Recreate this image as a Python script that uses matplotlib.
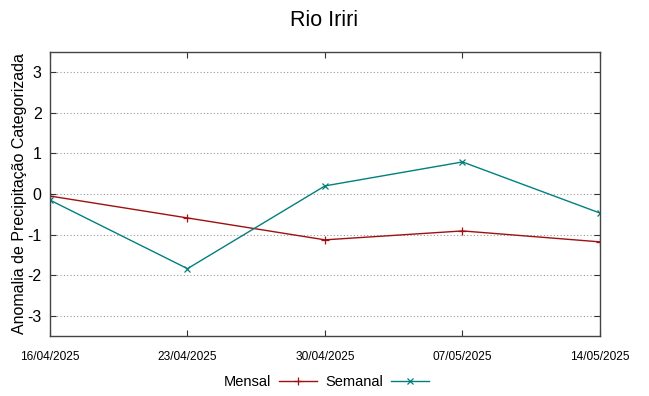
import matplotlib
matplotlib.use("Agg")
import matplotlib.pyplot as plt

plt.rcParams['font.family'] = ['Liberation Sans', 'DejaVu Sans']

datas = ["16/04/2025", "23/04/2025", "30/04/2025", "07/05/2025", "14/05/2025"]
mensal = [-0.05, -0.59, -1.13, -0.91, -1.18]
semanal = [-0.15, -1.84, 0.20, 0.79, -0.47]
yticks = [-3, -2, -1, 0, 1, 2, 3]

fig = plt.figure(figsize=(6.49, 3.96), dpi=100)
ax = fig.add_axes([0.077, 0.1515, 0.8475, 0.7172])

x = list(range(len(datas)))
ax.plot(x, mensal, color="#a01010", lw=1.0, marker="+", ms=6, mew=0.9, label="Mensal")
ax.plot(x, semanal, color="#00807f", lw=1.0, marker="x", ms=5, mew=0.9, label="Semanal")

ax.set_xlim(0, len(datas) - 1)
ax.set_ylim(-3.5, 3.5)
ax.set_xticks(x)
ax.set_xticklabels(datas, fontsize=8.6)
ax.set_yticks(yticks)
ax.set_yticklabels([str(v) for v in yticks], fontsize=11.5)
ax.tick_params(direction="in", length=4, top=True, right=True, colors="#333333", labelcolor="black", pad=6)
ax.tick_params(axis="x", pad=11)
ax.grid(axis="y", linestyle=(0, (1, 2)), color="#999999", lw=0.8)
for s in ax.spines.values():
    s.set_color("#444444")
    s.set_linewidth(1.0)

ax.set_ylabel("Anomalia de Precipitação Categorizada", fontsize=11.5, labelpad=0)
fig.suptitle("Rio Iriri", fontsize=15.5, y=0.975)

fig.legend(loc="center", ncol=2, frameon=False, fontsize=10.5, bbox_to_anchor=(0.503, 0.035),
           markerfirst=False, handlelength=2.6, columnspacing=0.55, handletextpad=0.55)

fig.savefig("out.png", dpi=100)
